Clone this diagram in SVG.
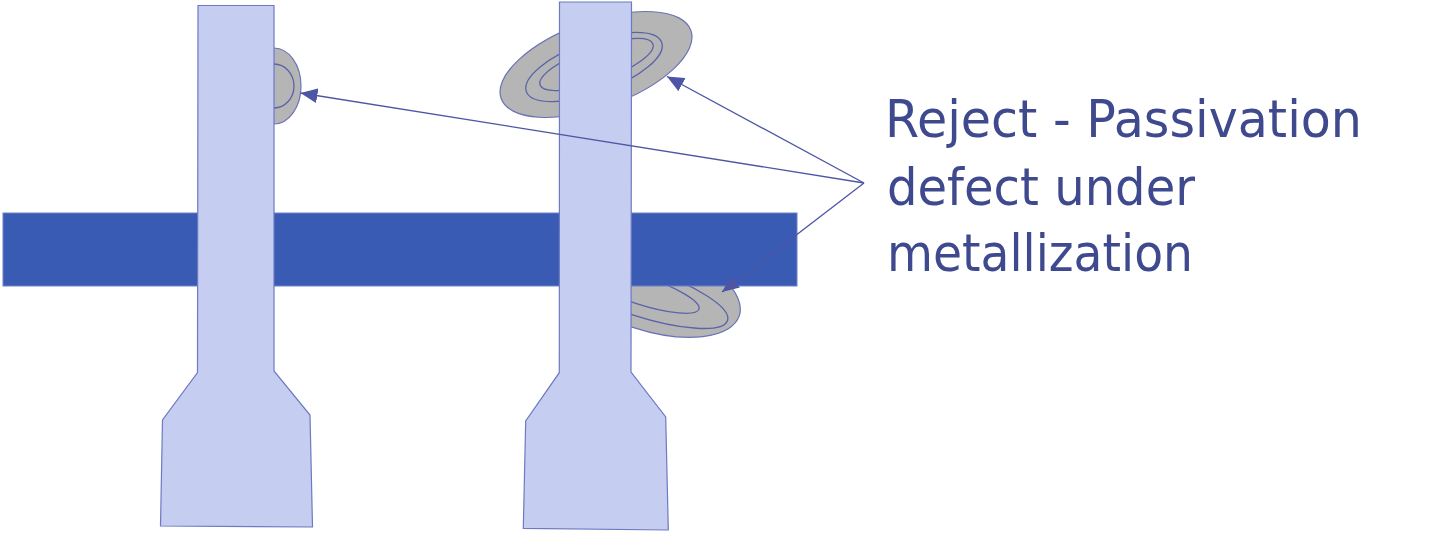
<svg xmlns="http://www.w3.org/2000/svg" width="1456" height="533" viewBox="0 0 1456 533">
<style>
.defect{fill:#b5b5b5;stroke:#6a73b4;stroke-width:1.2}
.ring{fill:none;stroke:#5a63a8;stroke-width:1.3}
.lead{fill:#c5cef0;stroke:#6d79c2;stroke-width:1.2}
.bar{fill:#3a5bb4;stroke:#6f82c8;stroke-width:1}
.conn{fill:none;stroke:#4c56a4;stroke-width:1.3}
.label{font-family:"DejaVu Sans","Verdana",sans-serif;font-size:52px;fill:#3f4a8e}
</style>
<defs>
<marker id="ah" viewBox="0 0 17 15" refX="17" refY="7.5" markerWidth="17" markerHeight="15" markerUnits="userSpaceOnUse" orient="auto">
<path d="M0,0 L17,7.5 L0,15 Z" fill="#4c56a4"/>
</marker>
</defs>
<rect width="1456" height="533" fill="#ffffff"/>
<g id="defect-left">
<ellipse class="defect" cx="274" cy="86" rx="27" ry="38"/>
<ellipse class="ring" cx="274" cy="86" rx="20" ry="22"/>
</g>
<g id="defect-top-right">
<ellipse class="defect" transform="translate(596,64.5) rotate(-19.75)" cx="0" cy="0" rx="100.8" ry="43.1"/>
<ellipse class="ring" transform="translate(594,67) rotate(-20)" cx="0" cy="0" rx="72" ry="26"/>
<ellipse class="ring" transform="translate(596.5,64.5) rotate(-20)" cx="0" cy="0" rx="60" ry="17"/>
</g>
<g id="defect-bottom">
<ellipse class="defect" transform="translate(648,286) rotate(18)" cx="0" cy="0" rx="96" ry="44"/>
<ellipse class="ring" transform="translate(640,292) rotate(18)" cx="0" cy="0" rx="92" ry="24"/>
<ellipse class="ring" transform="translate(640,290) rotate(18)" cx="0" cy="0" rx="62" ry="14"/>
</g>
<g id="bus-bar">
<rect class="bar" x="3" y="213" width="794" height="73"/>
</g>
<g id="lead-left">
<polygon class="lead" points="198,5.5 274,5.5 274,371 310,415 312.5,527 160.5,526 162.5,420 197.5,372.5"/>
</g>
<g id="lead-right">
<polygon class="lead" points="559.5,2 631.5,2 631,372 665.7,417 668.3,530 523.3,528.3 525.7,421 559.3,372.7"/>
</g>
<g id="connectors">
<line class="conn" x1="864" y1="183" x2="300.5" y2="93" marker-end="url(#ah)"/>
<line class="conn" x1="864" y1="183" x2="667" y2="76.5" marker-end="url(#ah)"/>
<line class="conn" x1="864" y1="183" x2="722" y2="292" marker-end="url(#ah)"/>
</g>
<g id="label">
<text class="label" x="885" y="137" textLength="477" lengthAdjust="spacingAndGlyphs">Reject - Passivation</text>
<text class="label" x="887" y="205" textLength="308" lengthAdjust="spacingAndGlyphs">defect under</text>
<text class="label" x="887" y="271" textLength="306" lengthAdjust="spacingAndGlyphs">metallization</text>
</g>
</svg>
